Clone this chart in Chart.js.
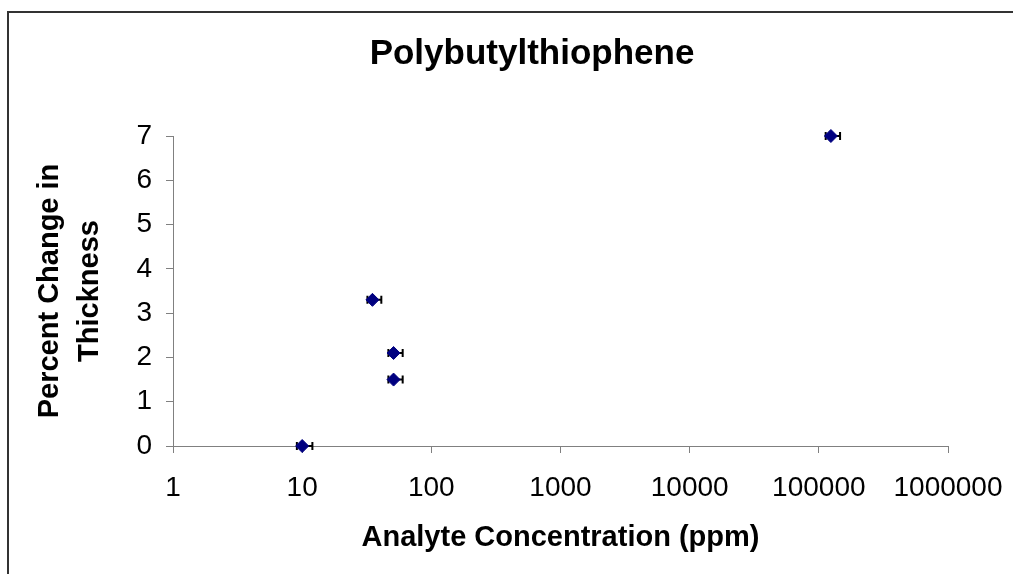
<!DOCTYPE html>
<html>
<head>
<meta charset="utf-8">
<title>Polybutylthiophene</title>
<script src="https://cdn.jsdelivr.net/npm/chart.js@4.4.0/dist/chart.umd.min.js"></script>
<style>
    html, body { margin: 0; padding: 0; background: #fff; }
    #wrap { position: relative; width: 1013px; height: 574px; overflow: hidden; }
    #wrap canvas { position: absolute; left: 0; top: 0; }
    /* outer chart frame, runs off the right and bottom edges like the original */
    #frame { position: absolute; left: 7px; top: 11px; width: 1100px; height: 700px;
             border-left: 2px solid #333; border-top: 2px solid #333; pointer-events: none; }
</style>
</head>
<body>
<div id="wrap">
    <canvas id="thicknessChart" width="1013" height="574"></canvas>
    <div id="frame"></div>
</div>
<script>
// ── Data ──
const concentration   = [10, 35, 51, 51, 124000];     // ppm
const thicknessChange = [0, 3.3, 2.1, 1.5, 7.0];      // %
const concLow         = [9.1, 32, 46.5, 46.5, 113000]; // error bar, low end
const concHigh        = [12, 41, 60, 60, 146000];     // error bar, high end
const xTicks = [1, 10, 100, 1000, 10000, 100000, 1000000];
const yTicks = [0, 1, 2, 3, 4, 5, 6, 7];

const chartTitle = 'Polybutylthiophene';
const xTitle = 'Analyte Concentration (ppm)';
const yTitle = ['Percent Change in', 'Thickness'];

const FONT = "Arial, 'Liberation Sans', sans-serif";
const axisGrey = '#808080';

// horizontal error bars, drawn under the markers
const errorBars = {
    id: 'errorBars',
    beforeDatasetsDraw(chart) {
        const { ctx, scales: { x, y } } = chart;
        ctx.save();
        ctx.strokeStyle = '#000';
        ctx.lineWidth = 2;
        concentration.forEach((c, i) => {
            const py = y.getPixelForValue(thicknessChange[i]);
            const x0 = x.getPixelForValue(concLow[i]);
            const x1 = x.getPixelForValue(concHigh[i]);
            ctx.beginPath();
            ctx.moveTo(x0, py); ctx.lineTo(x1, py);
            ctx.moveTo(x0, py - 4); ctx.lineTo(x0, py + 4);
            ctx.moveTo(x1, py - 4); ctx.lineTo(x1, py + 4);
            ctx.stroke();
        });
        ctx.restore();
    }
};

// chart title sits a little left of the plot centre, as in the original
const offsetTitle = {
    id: 'offsetTitle',
    afterDraw(chart) {
        const ctx = chart.ctx;
        ctx.save();
        ctx.font = "bold 35px " + FONT;
        ctx.fillStyle = '#000';
        ctx.textAlign = 'center';
        ctx.textBaseline = 'middle';
        ctx.fillText(chartTitle, 532, 54);
        ctx.restore();
    }
};

new Chart(document.getElementById('thicknessChart'), {
    type: 'scatter',
    data: {
        datasets: [{
            label: chartTitle,
            data: concentration.map((c, i) => ({ x: c, y: thicknessChange[i] })),
            pointStyle: 'rectRot',
            pointRadius: 6.5,
            pointHoverRadius: 6.5,
            backgroundColor: '#000080',
            borderColor: '#000080',
            borderWidth: 1,
            clip: false
        }]
    },
    options: {
        responsive: false,
        animation: false,
        layout: { padding: { left: 0, top: 136, right: 65, bottom: 0 } },
        plugins: {
            legend: { display: false },
            tooltip: { enabled: false },
            title: { display: false }
        },
        scales: {
            x: {
                type: 'logarithmic',
                position: 'bottom',
                min: 1,
                max: 1000000,
                afterBuildTicks: s => { s.ticks = xTicks.map(v => ({ value: v })); },
                afterFit: s => { s.height = 128; s.paddingLeft = 0; s.paddingRight = 0; },
                border: { color: axisGrey, width: 1 },
                grid: { drawOnChartArea: false, drawTicks: true, tickLength: 7, color: axisGrey },
                ticks: {
                    font: { family: FONT, size: 28 },
                    color: '#000',
                    padding: 18,
                    maxRotation: 0,
                    autoSkip: false,
                    callback: v => String(v)
                },
                title: {
                    display: true,
                    text: xTitle,
                    color: '#000',
                    font: { family: FONT, size: 29, weight: 'bold', lineHeight: 1.2 },
                    padding: { top: 0, bottom: 19 }
                }
            },
            y: {
                type: 'linear',
                min: 0,
                max: 7,
                afterBuildTicks: s => { s.ticks = yTicks.map(v => ({ value: v })); },
                afterFit: s => { s.width = 173; s.paddingTop = 0; s.paddingBottom = 0; },
                border: { color: axisGrey, width: 1 },
                grid: { drawOnChartArea: false, drawTicks: true, tickLength: 7, color: axisGrey },
                ticks: {
                    font: { family: FONT, size: 28 },
                    color: '#000',
                    padding: 14
                },
                title: {
                    display: true,
                    text: yTitle,
                    color: '#000',
                    font: { family: FONT, size: 29, weight: 'bold', lineHeight: 1.38 },
                    padding: { top: 30, bottom: 0 }
                }
            }
        }
    },
    plugins: [errorBars, offsetTitle]
});
</script>
</body>
</html>
